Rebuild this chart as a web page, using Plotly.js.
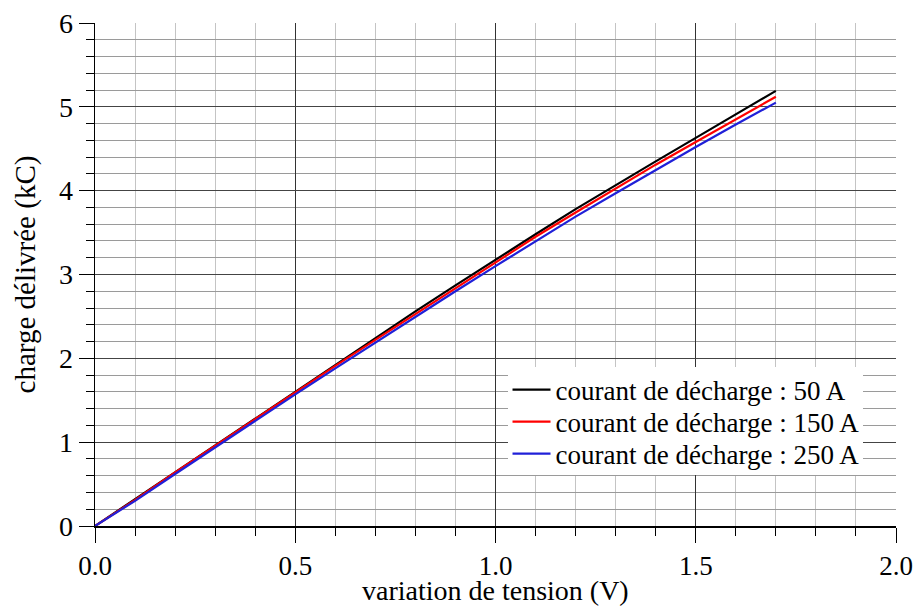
<!DOCTYPE html>
<html>
<head>
<meta charset="utf-8">
<script src="https://cdn.plot.ly/plotly-3.0.1.min.js"></script>
<style>html,body{margin:0;padding:0;background:#fff}#chart{width:916px;height:608px}</style>
</head>
<body>
<div id="chart"></div>
<script>
var tension = [0, 0.1, 0.2, 0.3, 0.4, 0.5, 0.6, 0.7, 0.8, 0.9, 1.0, 1.1, 1.2, 1.3, 1.4, 1.5, 1.6, 1.7];
var charge50 = [0, 0.32, 0.65, 0.97, 1.29, 1.61, 1.93, 2.25, 2.56, 2.87, 3.18, 3.48, 3.78, 4.07, 4.35, 4.63, 4.91, 5.19];
var charge150 = [0, 0.31, 0.64, 0.96, 1.28, 1.59, 1.91, 2.22, 2.53, 2.84, 3.15, 3.45, 3.74, 4.03, 4.31, 4.58, 4.85, 5.12];
var charge250 = [0, 0.30, 0.62, 0.94, 1.26, 1.57, 1.88, 2.19, 2.50, 2.80, 3.10, 3.40, 3.69, 3.97, 4.25, 4.52, 4.79, 5.05];
var names = ["courant de décharge : 50 A", "courant de décharge : 150 A", "courant de décharge : 250 A"];
var colors = ["#000000", "#ff0000", "#2020d8"];
var series = [charge50, charge150, charge250];
var legendIds = ["legend", "legend2", "legend3"];
var xTitle = "variation de tension (V)";
var yTitle = "charge délivrée (kC)";

var traces = series.map(function (s, i) {
  return { x: tension, y: s, type: "scatter", mode: "lines", name: names[i],
           legend: legendIds[i],
           line: { color: colors[i], width: 2.2 } };
});

var FF = "Liberation Serif, Times New Roman, serif";

function legendAt(yc) {
  return {
    x: 0.515, y: yc, xanchor: "left", yanchor: "middle",
    bgcolor: "rgba(0,0,0,0)", borderwidth: 0, itemwidth: 38,
    font: { family: FF, size: 27, color: "#000" }
  };
}

var layout = {
  width: 916, height: 608,
  margin: { l: 95, r: 20, t: 23, b: 82 },
  paper_bgcolor: "#fff", plot_bgcolor: "#fff",
  font: { family: FF, color: "#000", size: 24 },
  showlegend: true,
  legend: legendAt(0.2704),
  legend2: legendAt(0.2068),
  legend3: legendAt(0.1431),
  shapes: [{
    type: "rect", xref: "paper", yref: "paper", layer: "above",
    x0: 0.5156, x1: 0.9588, y0: 0.1014, y1: 0.3161,
    fillcolor: "#fff", line: { width: 0 }
  }],
  annotations: [{
    text: xTitle, xref: "paper", yref: "paper", x: 0.5, y: -0.129,
    xanchor: "center", yanchor: "middle", showarrow: false,
    font: { family: FF, size: 28, color: "#000" }
  }],
  xaxis: {
    range: [0, 2.0], tickvals: [0, 0.5, 1.0, 1.5, 2.0], ticktext: ["0.0", "0.5", "1.0", "1.5", "2.0"],
    ticks: "outside", ticklen: 15, tickwidth: 1, tickcolor: "#000",
    showline: true, linecolor: "#000", linewidth: 1.5, zeroline: false,
    showgrid: true, gridcolor: "#333", gridwidth: 1,
    tickfont: { family: FF, size: 27, color: "#000" },
    minor: { dtick: 0.1, ticks: "outside", ticklen: 8, tickcolor: "#000", showgrid: true, gridcolor: "#c4c4c4", gridwidth: 1 }
  },
  yaxis: {
    range: [0, 6], dtick: 1, tickformat: "d",
    ticks: "outside", ticklen: 15, tickwidth: 1, tickcolor: "#000",
    showline: true, linecolor: "#000", linewidth: 1.5, zeroline: false,
    showgrid: true, gridcolor: "#444", gridwidth: 1,
    tickfont: { family: FF, size: 28, color: "#000" },
    minor: { dtick: 0.2, ticks: "outside", ticklen: 8, tickcolor: "#000", showgrid: true, gridcolor: "#9a9a9a", gridwidth: 1 },
    title: { text: yTitle, font: { family: FF, size: 29, color: "#000" }, standoff: 15 }
  }
};

Plotly.newPlot("chart", traces, layout, { displayModeBar: false, staticPlot: true });
</script>
</body>
</html>
